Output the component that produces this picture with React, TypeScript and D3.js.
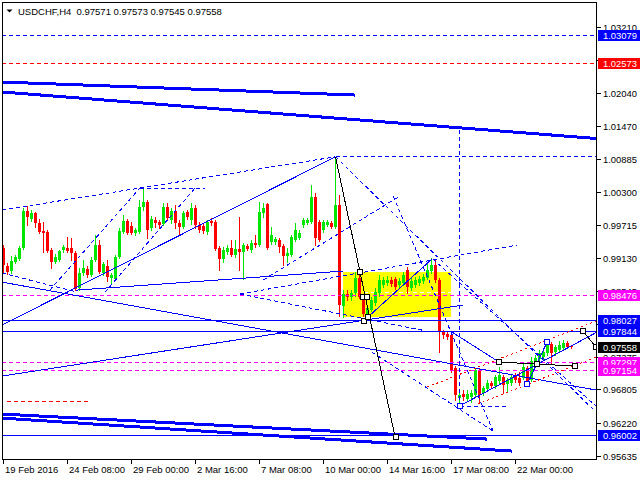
import React from 'react';
import * as d3 from 'd3';

// ---- chart data -------------------------------------------------------
const symbol = 'USDCHF,H4';

const barOpen = [
  0.9931, 0.9899, 0.9890, 0.9906, 0.9911, 0.9931, 0.9996, 0.9982, 0.9993, 0.9975,
  0.9961, 0.9959, 0.9927, 0.9906, 0.9909, 0.9927, 0.9931, 0.9931, 0.9922, 0.9860,
  0.9886, 0.9893, 0.9883, 0.9909, 0.9936, 0.9886, 0.9899, 0.9877, 0.9876, 0.9915,
  0.9959, 0.9978, 0.9970, 0.9957, 0.9959, 1.0003, 1.0012, 0.9966, 0.9980, 0.9977,
  0.9973, 1.0003, 0.9980, 0.9996, 0.9975, 0.9968, 0.9994, 0.9980, 1.0001, 0.9971,
  0.9970, 0.9959, 0.9978, 0.9977, 0.9931, 0.9911, 0.9924, 0.9931, 0.9918, 0.9929,
  0.9924, 0.9934, 0.9927, 0.9939, 0.9936, 0.9993, 1.0008, 0.9941, 0.9941, 0.9945,
  0.9934, 0.9916, 0.9918, 0.9945, 0.9948, 0.9971, 0.9975, 0.9977, 1.0021, 0.9977,
  0.9962, 0.9971, 0.9975, 0.9968, 1.0007, 0.9828, 0.9849, 0.9844, 0.9851, 0.9878,
  0.9844, 0.9810, 0.9821, 0.9833, 0.9851, 0.9865, 0.9869, 0.9874, 0.9876, 0.9865,
  0.9869, 0.9892, 0.9860, 0.9865, 0.9869, 0.9872, 0.9877, 0.9890, 0.9901, 0.9874,
  0.9782, 0.9779, 0.9777, 0.9718, 0.9665, 0.9672, 0.9664, 0.9667, 0.9671, 0.9715,
  0.9674, 0.9681, 0.9692, 0.9687, 0.9695, 0.9702, 0.9690, 0.9692, 0.9704, 0.9701,
  0.9701, 0.9718, 0.9697, 0.9729, 0.9734, 0.9738, 0.9745, 0.9761, 0.9747, 0.9750,
  0.9754, 0.9763, 0.97571,
];

const barHigh = [
  0.9936, 0.9904, 0.9916, 0.9918, 0.9934, 1.0001, 1.0005, 0.9998, 0.9994, 0.9982,
  0.9977, 0.9962, 0.9931, 0.9920, 0.9927, 0.9936, 0.9950, 0.9948, 0.9925, 0.9895,
  0.9909, 0.9899, 0.9915, 0.9954, 0.9945, 0.9906, 0.9909, 0.9886, 0.9918, 0.9966,
  0.9989, 0.9982, 0.9977, 0.9966, 1.0015, 1.0037, 1.0015, 0.9987, 0.9985, 0.9980,
  1.0010, 1.0010, 1.0001, 1.0007, 0.9980, 0.9996, 0.9998, 1.0010, 1.0007, 0.9977,
  0.9973, 0.9980, 0.9984, 0.9980, 0.9934, 0.9932, 0.9936, 0.9945, 0.9945, 0.9985,
  0.9939, 0.9938, 0.9945, 0.9954, 1.0012, 1.0010, 1.0010, 0.9968, 0.9950, 0.9948,
  0.9938, 0.9931, 0.9954, 0.9975, 0.9962, 0.9984, 0.9984, 1.0042, 1.0028, 0.9980,
  0.9980, 0.9980, 0.9978, 1.0092, 1.0024, 0.9856, 0.9856, 0.9856, 0.9888, 0.9888,
  0.9849, 0.9830, 0.9844, 0.9860, 0.9883, 0.9879, 0.9881, 0.9879, 0.9879, 0.9877,
  0.9888, 0.9897, 0.9877, 0.9879, 0.9881, 0.9885, 0.9902, 0.9913, 0.9911, 0.9877,
  0.9786, 0.9784, 0.9782, 0.9722, 0.9676, 0.9679, 0.9679, 0.9679, 0.9718, 0.9718,
  0.9687, 0.9697, 0.9695, 0.9706, 0.9720, 0.9706, 0.9701, 0.9708, 0.9710, 0.9711,
  0.9729, 0.9722, 0.9738, 0.9741, 0.9750, 0.9752, 0.9764, 0.9764, 0.9759, 0.9766,
  0.9768, 0.9766, 0.97573,
];

const barLow = [
  0.9888, 0.9885, 0.9886, 0.9904, 0.9909, 0.9929, 0.9971, 0.9978, 0.9968, 0.9957,
  0.9924, 0.9924, 0.9895, 0.9904, 0.9908, 0.9924, 0.9924, 0.9909, 0.9856, 0.9856,
  0.9883, 0.9879, 0.9881, 0.9908, 0.9886, 0.9883, 0.9872, 0.9867, 0.9874, 0.9913,
  0.9957, 0.9955, 0.9955, 0.9954, 0.9957, 0.9998, 0.9948, 0.9962, 0.9968, 0.9966,
  0.9971, 0.9980, 0.9975, 0.9966, 0.9954, 0.9966, 0.9982, 0.9973, 0.9966, 0.9959,
  0.9957, 0.9955, 0.9971, 0.9927, 0.9892, 0.9906, 0.9920, 0.9916, 0.9915, 0.9892,
  0.9876, 0.9927, 0.9924, 0.9932, 0.9934, 0.9985, 0.9929, 0.9938, 0.9938, 0.9924,
  0.9901, 0.9906, 0.9916, 0.9943, 0.9947, 0.9968, 0.9973, 0.9975, 0.9936, 0.9943,
  0.9959, 0.9970, 0.9966, 0.9966, 0.9810, 0.9809, 0.9839, 0.9839, 0.9846, 0.9842,
  0.9810, 0.9807, 0.9819, 0.9830, 0.9846, 0.9862, 0.9865, 0.9863, 0.9858, 0.9862,
  0.9865, 0.9851, 0.9856, 0.9862, 0.9865, 0.9869, 0.9876, 0.9886, 0.9870, 0.9747,
  0.9771, 0.9770, 0.9711, 0.9662, 0.9651, 0.9662, 0.9660, 0.9658, 0.9667, 0.9656,
  0.9671, 0.9679, 0.9683, 0.9683, 0.9692, 0.9674, 0.9676, 0.9688, 0.9694, 0.9688,
  0.9699, 0.9690, 0.9695, 0.9725, 0.9731, 0.9734, 0.9741, 0.9727, 0.9741, 0.9747,
  0.9750, 0.9754, 0.97545,
];

const barClose = [
  0.9901, 0.9888, 0.9908, 0.9915, 0.9931, 0.9996, 0.9985, 0.9993, 0.9975, 0.9959,
  0.9957, 0.9925, 0.9906, 0.9915, 0.9925, 0.9932, 0.9925, 0.9922, 0.9858, 0.9886,
  0.9895, 0.9883, 0.9909, 0.9936, 0.9888, 0.9902, 0.9879, 0.9883, 0.9915, 0.9961,
  0.9978, 0.9957, 0.9957, 0.9962, 1.0003, 1.0012, 0.9962, 0.9982, 0.9975, 0.9971,
  1.0003, 0.9984, 0.9996, 0.9975, 0.9968, 0.9993, 0.9985, 1.0001, 0.9971, 0.9962,
  0.9961, 0.9977, 0.9975, 0.9929, 0.9911, 0.9927, 0.9931, 0.9918, 0.9929, 0.9924,
  0.9936, 0.9929, 0.9939, 0.9936, 0.9994, 1.0001, 0.9931, 0.9954, 0.9947, 0.9932,
  0.9916, 0.9922, 0.9950, 0.9962, 0.9957, 0.9980, 0.9980, 1.0021, 0.9948, 0.9945,
  0.9977, 0.9977, 0.9968, 1.0007, 0.9830, 0.9849, 0.9844, 0.9851, 0.9878, 0.9844,
  0.9814, 0.9824, 0.9839, 0.9853, 0.9874, 0.9874, 0.9874, 0.9867, 0.9862, 0.9872,
  0.9883, 0.9862, 0.9872, 0.9874, 0.9876, 0.9879, 0.9892, 0.9901, 0.9874, 0.9782,
  0.9777, 0.9773, 0.9715, 0.9671, 0.9671, 0.9667, 0.9672, 0.9674, 0.9715, 0.9671,
  0.9683, 0.9692, 0.9687, 0.9702, 0.9706, 0.9688, 0.9697, 0.9702, 0.9697, 0.9692,
  0.9720, 0.9692, 0.9731, 0.9736, 0.9745, 0.9747, 0.9761, 0.9745, 0.9756, 0.9759,
  0.9763, 0.9756, 0.97558,
];

// time axis: a label every 16 bars
const timeTickBars = [0, 16, 32, 48, 64, 80, 96, 112, 128];
const timeTickLabels = [
  '19 Feb 2016', '24 Feb 08:00', '29 Feb 00:00', '2 Mar 16:00', '7 Mar 08:00',
  '10 Mar 00:00', '14 Mar 16:00', '17 Mar 08:00', '22 Mar 00:00',
];

// price axis
const priceTicks = [
  1.0321, 1.02625, 1.0204, 1.0147, 1.00885, 1.003, 0.99715, 0.9913,
  0.98545, 0.9796, 0.97375, 0.96805, 0.9622, 0.95635,
];

// horizontal levels with a price tag on the axis
const levelPrices = [1.03079, 1.02573, 0.98476, 0.98027, 0.97844, 0.97297, 0.97154, 0.96002];
const levelKinds = ['blueDash', 'redDash', 'magentaDash', 'blue', 'blue', 'magentaDash', 'magentaDash', 'blue'];

// trend objects: points are [bar index, price]
type Seg = { kind: string; pts: [number, number][] };
const trendLines: Seg[] = [
  // wide channel lines
  { kind: 'thick', pts: [[-0.4, 1.02242], [87.9, 1.02012]] },
  { kind: 'thick', pts: [[-0.4, 1.02066], [148.2, 1.01243]] },
  { kind: 'thick', pts: [[-0.4, 0.96369], [120.9, 0.95927]] },
  { kind: 'thick', pts: [[-0.4, 0.96298], [127.1, 0.95715]] },
  // solid trend lines
  { kind: 'solid', pts: [[-0.4, 0.97944], [83, 1.0092]] },
  { kind: 'solid', pts: [[-0.4, 0.98704], [148.2, 0.96794]] },
  { kind: 'solid', pts: [[18, 0.9856], [84.9, 0.98899]] },
  { kind: 'solid', pts: [[-0.4, 0.97042], [114.9, 0.98298]] },
  { kind: 'solid', pts: [[112.1, 0.9782], [123.9, 0.97289]] },
  { kind: 'solid', pts: [[114, 0.96511], [148.4, 0.9782]] },
  { kind: 'solid', pts: [[91.1, 0.98085], [107.1, 0.99111]] },
  { kind: 'solid', pts: [[130.9, 0.969], [135.9, 0.97643]] },
  // dashed construction lines
  { kind: 'dash', pts: [[-0.4, 0.99978], [83, 1.0092]] },
  { kind: 'dash', pts: [[34.1, 1.00367], [50.4, 1.00367]] },
  { kind: 'dash', pts: [[11.6, 0.98563], [34.1, 1.00367]] },
  { kind: 'dash', pts: [[25.4, 0.98528], [47.9, 1.00367]] },
  { kind: 'dash', pts: [[-0.4, 0.98864], [18.4, 0.98528]] },
  { kind: 'dash', pts: [[59.1, 0.98492], [128.4, 0.99359]] },
  { kind: 'dash', pts: [[59.1, 0.98492], [104.6, 0.97855]] },
  { kind: 'dash', pts: [[64.9, 0.9874], [99.1, 1.00226]] },
  { kind: 'dash', pts: [[83, 1.0092], [148.1, 0.96405]] },
  { kind: 'dash', pts: [[97.4, 1.00226], [122.4, 0.96069]] },
  { kind: 'dash', pts: [[92.1, 0.97466], [122.4, 0.96069]] },
  { kind: 'dash', pts: [[107.4, 0.99111], [148.1, 0.96511]] },
  { kind: 'dash', pts: [[83, 1.0092], [148.3, 1.0092]] },
  { kind: 'dash', pts: [[114, 0.96511], [126.1, 0.96511]] },
  { kind: 'dash', pts: [[114, 1.01393], [114, 0.96511]] },
  // red guides
  { kind: 'redDash', pts: [[0.9, 0.96599], [21.1, 0.96599]] },
  { kind: 'redDot', pts: [[105.9, 0.96847], [148.2, 0.98015]] },
  { kind: 'redDot', pts: [[118.6, 0.96546], [148.2, 0.97378]] },
  // wave path
  { kind: 'black', pts: [[83, 1.0092], [97.9, 0.95963]] },
  { kind: 'black', pts: [[123.9, 0.97289], [133.4, 0.97254], [142.9, 0.97219]] },
  { kind: 'black', pts: [[144.9, 0.97838], [148.1, 0.97555]] },
];

const blackMarkers: [number, number][] = [
  [89, 0.98881], [89.9, 0.98439], [90.9, 0.98439], [90, 0.98015], [91.1, 0.98085],
  [98, 0.95963], [123.9, 0.97289], [133.4, 0.97254], [142.9, 0.97219],
  [144.9, 0.97838], [148.1, 0.97555],
];
const blueMarkers: [number, number][] = [[114, 0.96511], [130.9, 0.969], [135.9, 0.97643]];

// consolidation box: bars and prices of its corners
const boxBars = [84.9, 111.9];
const boxPrices = [0.98881, 0.98085];
const boxMidPrice = 0.98528;

// ---- styles -------------------------------------------------------------
const BLUE = '#0000ff';
const RED = '#ff0000';
const MAGENTA = '#ff00ff';
const BULL = '#00e600';
const BEAR = '#ff0000';

const lineStyle: Record<string, { stroke: string; width: number; dash?: string }> = {
  thick: { stroke: BLUE, width: 3 },
  solid: { stroke: BLUE, width: 1 },
  dash: { stroke: BLUE, width: 1, dash: '4,3' },
  redDash: { stroke: RED, width: 1, dash: '4,3' },
  redDot: { stroke: RED, width: 1, dash: '2,3' },
  black: { stroke: '#000', width: 1 },
  blue: { stroke: BLUE, width: 1 },
  blueDash: { stroke: BLUE, width: 1, dash: '4,3' },
  magentaDash: { stroke: MAGENTA, width: 1, dash: '4,3' },
};
const tagColor: Record<string, string> = {
  blue: BLUE, blueDash: BLUE, redDash: RED, magentaDash: MAGENTA,
};

const FONT = '"Liberation Sans", Arial, sans-serif';
const FS = 9.5;
const PRICE_W = 34; // rendered width of a 7-character price label

const frame = { left: 2, top: 2, right: 596.5, bottom: 459 };

export default function App() {
  const x = d3.scaleLinear().domain([0, 1]).range([3.5, 7.5]);
  const y = d3.scaleLinear().domain([0.95635, 1.0321]).range([455.6, 27.3]);
  const line = d3.line<[number, number]>().x((d) => x(d[0])).y((d) => y(d[1]));

  const last = barClose.length - 1;
  const lastValues = [barOpen[last], barHigh[last], barLow[last], barClose[last]];

  // a tick label is hidden when a price tag sits right on it, or tags cover it from both sides
  const tagYs = levelPrices.map((p) => y(p));
  const visibleTicks = priceTicks.filter((p) => {
    const ty = y(p);
    const onTop = tagYs.some((t) => Math.abs(t - ty) < 3.5);
    const above = tagYs.some((t) => t < ty && ty - t < 8);
    const below = tagYs.some((t) => t > ty && t - ty < 8);
    return !onTop && !(above && below);
  });

  return (
    <svg width={640} height={480}
      style={{ position: 'absolute', left: 0, top: 0, display: 'block', background: '#fff' }}
      fontFamily={FONT} fontSize={FS}>
      <defs>
        <clipPath id="plotClip">
          <rect x={frame.left} y={frame.top} width={frame.right - frame.left} height={frame.bottom - frame.top} />
        </clipPath>
      </defs>
      <rect x={0} y={0} width={640} height={480} fill="#fff" />

      <g clipPath="url(#plotClip)">
        {/* consolidation box */}
        <rect x={x(boxBars[0])} y={y(boxPrices[0])} width={x(boxBars[1]) - x(boxBars[0])}
          height={y(boxPrices[1]) - y(boxPrices[0])} fill="#ffff00" />
        <line x1={x(boxBars[0]) + 14} x2={x(boxBars[1])} y1={y(boxMidPrice)} y2={y(boxMidPrice)}
          stroke="#fff" strokeDasharray="4,3" shapeRendering="crispEdges" />

        {/* candles */}
        {barClose.map((c, i) => {
          const o = barOpen[i];
          const up = c >= o;
          const col = up ? BULL : BEAR;
          const cx = x(i);
          const top = Math.round(y(Math.max(o, c)));
          const bot = Math.round(y(Math.min(o, c)));
          return (
            <g key={i} shapeRendering="crispEdges">
              <line x1={cx} x2={cx} y1={Math.round(y(barHigh[i]))} y2={Math.round(y(barLow[i])) + 1} stroke={col} />
              <rect x={cx - 1.5} y={top} width={3} height={Math.max(1, bot - top)} fill={col} />
            </g>
          );
        })}

        {/* horizontal levels */}
        {levelPrices.map((p, k) => {
          const st = lineStyle[levelKinds[k]];
          const yy = Math.round(y(p)) + 0.5;
          return (
            <line key={k} x1={frame.left} x2={frame.right} y1={yy} y2={yy} stroke={st.stroke}
              strokeWidth={st.width} strokeDasharray={st.dash} shapeRendering="crispEdges" />
          );
        })}

        {/* trend objects */}
        {trendLines.map((s, k) => {
          const st = lineStyle[s.kind];
          return (
            <path key={k} d={line(s.pts) || ''} fill="none" stroke={st.stroke} strokeWidth={st.width}
              strokeDasharray={st.dash} shapeRendering="crispEdges" />
          );
        })}

        {blackMarkers.map((m, k) => (
          <rect key={k} x={Math.round(x(m[0])) - 2.5} y={Math.round(y(m[1])) - 2.5} width={5} height={5}
            fill="#fff" stroke="#000" shapeRendering="crispEdges" />
        ))}
        {blueMarkers.map((m, k) => (
          <rect key={k} x={Math.round(x(m[0])) - 2.5} y={Math.round(y(m[1])) - 2.5} width={5} height={5}
            fill="#fff" stroke={BLUE} shapeRendering="crispEdges" />
        ))}
      </g>

      {/* frame */}
      <rect x={frame.left + 0.5} y={frame.top + 0.5} width={frame.right - frame.left - 0.5}
        height={frame.bottom - frame.top - 0.5} fill="none" stroke="#000" shapeRendering="crispEdges" />

      {/* header */}
      <path d="M6.5,9.5 L12.5,9.5 L9.5,12.5 Z" fill="#000" />
      <text x={18} y={14.5} fill="#000" style={{ whiteSpace: 'pre' }}>
        {`${symbol}  ${lastValues.map((v) => v.toFixed(5)).join(' ')}`}
      </text>

      {/* time axis */}
      {timeTickBars.map((b, k) => {
        const tx = Math.round(x(b)) - 0.5;
        return (
          <g key={k}>
            <line x1={tx} x2={tx} y1={frame.bottom} y2={frame.bottom + 5} stroke="#000" shapeRendering="crispEdges" />
            <text x={tx + 1.5} y={473} fill="#000">{timeTickLabels[k]}</text>
          </g>
        );
      })}

      {/* price axis */}
      {priceTicks.map((p, k) => {
        const yy = Math.round(y(p)) + 0.5;
        return (
          <line key={k} x1={frame.right} x2={frame.right + 4} y1={yy} y2={yy} stroke="#000" shapeRendering="crispEdges" />
        );
      })}
      {visibleTicks.map((p, k) => {
        const yy = Math.round(y(p)) + 0.5;
        return (
          <text key={k} x={603} y={yy + 3.5} fill="#000" textLength={PRICE_W} lengthAdjust="spacingAndGlyphs">
            {p.toFixed(5)}
          </text>
        );
      })}

      {/* price tags */}
      {levelPrices.map((p, k) => {
        const yy = Math.round(y(p));
        return (
          <g key={k}>
            <rect x={598} y={yy - 5} width={42} height={11} fill={tagColor[levelKinds[k]]} />
            <text x={603} y={yy + 4} fill="#fff" textLength={PRICE_W} lengthAdjust="spacingAndGlyphs">
              {p.toFixed(5)}
            </text>
          </g>
        );
      })}
      <g>
        <rect x={598} y={Math.round(y(barClose[last])) - 5} width={42} height={11} fill="#000" />
        <text x={603} y={Math.round(y(barClose[last])) + 4} fill="#fff" textLength={PRICE_W}
          lengthAdjust="spacingAndGlyphs">
          {barClose[last].toFixed(5)}
        </text>
      </g>
    </svg>
  );
}
